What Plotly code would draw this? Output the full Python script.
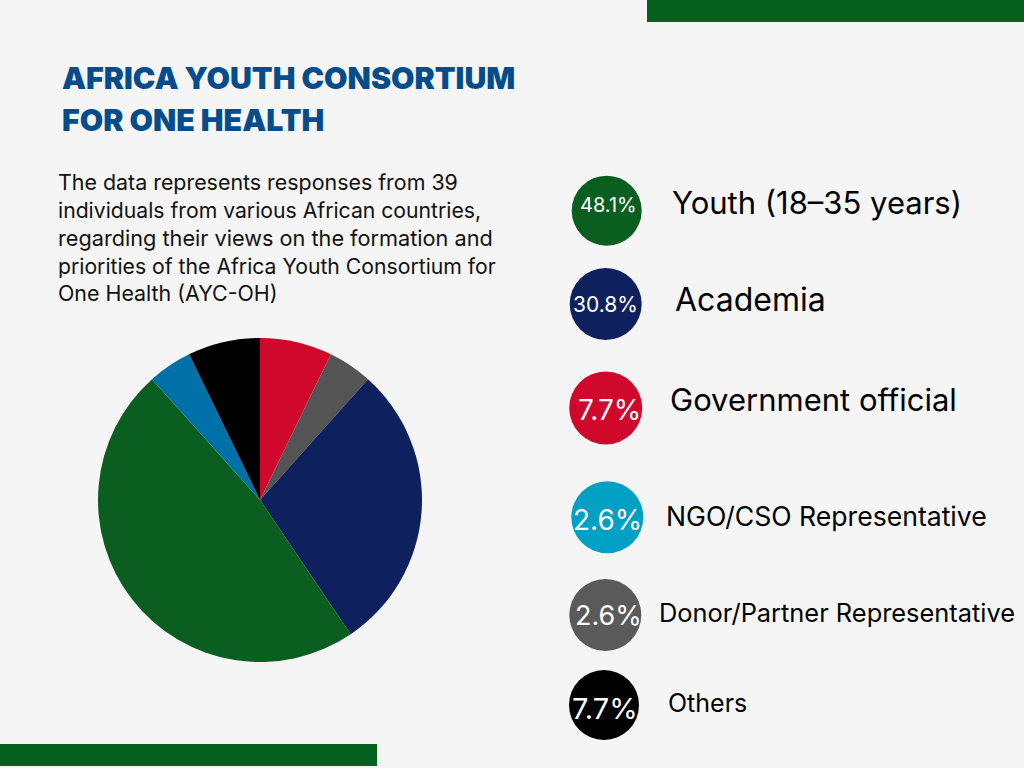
import plotly.graph_objects as go

# pie slices (clockwise from the top)
slice_names = ["Government official", "Donor/Partner Representative", "Academia",
               "Youth (18–35 years)", "NGO/CSO Representative", "Others"]
slice_values = [7.2, 4.4, 28.9, 47.8, 4.4, 7.2]
slice_colors = ["#d0082c", "#545454", "#0f205e", "#0a5f20", "#0070a8", "#000000"]

# the legend on the right
legend_names = ["Youth (18–35 years)", "Academia", "Government official",
                "NGO/CSO Representative", "Donor/Partner Representative", "Others"]
legend_labels = ["48.1%", "30.8%", "7.7%", "2.6%", "2.6%", "7.7%"]
legend_colors = ["#0a5f20", "#0f205e", "#d0082c", "#00a0c4", "#5a5a5a", "#000000"]

title_lines = ["AFRICA YOUTH CONSORTIUM", "FOR ONE HEALTH"]
body_lines = ["The data represents responses from 39",
              "individuals from various African countries,",
              "regarding their views on the formation and",
              "priorities of the Africa Youth Consortium for",
              "One Health (AYC-OH)"]

W, H = 1024, 768
FONT = "Inter"

# layout of the legend, in page pixels
circle_x = [606.7, 605.7, 605.7, 607.3, 605.3, 604]
circle_y = [210.7, 304, 408, 517.3, 615, 705]
circle_d = [70, 72, 73, 72, 72, 70]
pct_x = [608.5, 605.5, 609, 607.5, 608, 604.5]
pct_y = [205, 304, 410, 520, 615, 708]
pct_size = [20, 21, 28, 28, 27, 29]
name_x = [670, 673, 668, 664, 657, 666]
name_y = [202, 299, 399, 516, 612, 703]
name_size = [31, 32, 31, 26.6, 25.4, 25]
body_size = [21.4, 21.2, 21.7, 21.2, 21.4]

fig = go.Figure()
fig.add_trace(go.Pie(
    labels=slice_names, values=slice_values, sort=False, direction="clockwise", rotation=0,
    marker=dict(colors=slice_colors, line=dict(width=0)),
    textinfo="none", showlegend=False, hoverinfo="label+percent",
    domain=dict(x=[(260 - 162) / W, (260 + 162) / W], y=[1 - (500 + 162) / H, 1 - (500 - 162) / H]),
))
fig.add_trace(go.Scatter(
    x=circle_x, y=circle_y, mode="markers", showlegend=False, hoverinfo="skip",
    marker=dict(size=circle_d, color=legend_colors, opacity=1, line=dict(width=0)),
))

notes = []
for i, line in enumerate(title_lines):
    notes.append(dict(x=59.5, y=[78, 120][i], text=line, xanchor="left",
                      font=dict(family=FONT, size=30.3, color="#044c8c", weight=900)))
for i, line in enumerate(body_lines):
    notes.append(dict(x=56, y=[182, 210, 238, 266, 293][i], text=line, xanchor="left",
                      font=dict(family=FONT, size=body_size[i], color="#111111")))
for i in range(6):
    notes.append(dict(x=pct_x[i], y=pct_y[i], text=legend_labels[i], xanchor="center",
                      font=dict(family=FONT, size=pct_size[i], color="#ffffff")))
    notes.append(dict(x=name_x[i], y=name_y[i], text=legend_names[i], xanchor="left",
                      font=dict(family=FONT, size=name_size[i], color="#000000")))
for n in notes:
    n.update(xref="x", yref="y", showarrow=False, yanchor="middle")

fig.update_layout(
    width=W, height=H, margin=dict(l=0, r=0, t=0, b=0),
    paper_bgcolor="#f5f5f5", plot_bgcolor="rgba(0,0,0,0)",
    xaxis=dict(range=[0, W], visible=False, fixedrange=True),
    yaxis=dict(range=[H, 0], visible=False, fixedrange=True),
    annotations=notes,
    shapes=[
        dict(type="rect", xref="x", yref="y", x0=647, x1=1024, y0=0, y1=22, fillcolor="#055f1f", line_width=0),
        dict(type="rect", xref="x", yref="y", x0=0, x1=377, y0=744, y1=766, fillcolor="#055f1f", line_width=0),
    ],
)

fig.write_html("out.html", config=dict(displayModeBar=False), post_script="document.body.style.margin='0';")
